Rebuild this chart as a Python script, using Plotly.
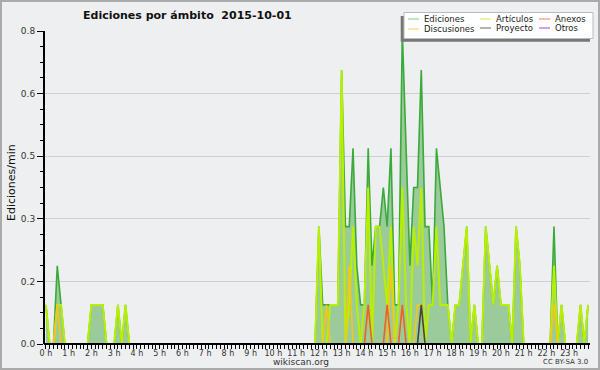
import plotly.graph_objects as go

# 10-minute bins over the day (minutes since 00:00)
minutes = list(range(0, 1440, 10))

# Edits per minute per 10-minute bin
ediciones = [
    0.1, 0, 0, 0.2, 0.1, 0, 0, 0, 0, 0, 0, 0,            # 0h-2h
    0.1, 0.1, 0.1, 0.1, 0, 0, 0, 0.1, 0, 0.1, 0, 0,      # 2h-4h
    0, 0, 0, 0, 0, 0, 0, 0, 0, 0, 0, 0,                  # 4h-6h
    0, 0, 0, 0, 0, 0, 0, 0, 0, 0, 0, 0,                  # 6h-8h
    0, 0, 0, 0, 0, 0, 0, 0, 0, 0, 0, 0,                  # 8h-10h
    0, 0, 0, 0, 0, 0, 0, 0, 0, 0, 0, 0,                  # 10h-12h
    0.3, 0.1, 0.1, 0.1, 0.1, 0.1, 0.7, 0.3, 0.3, 0.5, 0.2, 0.1,   # 12h-14h
    0.1, 0.5, 0.2, 0.3, 0.3, 0.4, 0.3, 0.5, 0.1, 0.1, 0.8, 0.5,   # 14h-16h
    0.2, 0.4, 0.4, 0.7, 0.3, 0.3, 0.1, 0.5, 0.4, 0.3, 0.1, 0,     # 16h-18h
    0.1, 0.1, 0.2, 0.3, 0, 0.1, 0, 0, 0.3, 0.2, 0.1, 0.2,         # 18h-20h
    0.1, 0.1, 0.1, 0, 0.3, 0.2, 0, 0, 0, 0, 0, 0,                 # 20h-22h
    0, 0, 0.3, 0, 0.1, 0, 0, 0, 0, 0.1, 0, 0.1,                   # 22h-24h
]
articulos = [
    0.1, 0, 0, 0.1, 0.1, 0, 0, 0, 0, 0, 0, 0,
    0.1, 0.1, 0.1, 0.1, 0, 0, 0, 0.1, 0, 0.1, 0, 0,
    0, 0, 0, 0, 0, 0, 0, 0, 0, 0, 0, 0,
    0, 0, 0, 0, 0, 0, 0, 0, 0, 0, 0, 0,
    0, 0, 0, 0, 0, 0, 0, 0, 0, 0, 0, 0,
    0, 0, 0, 0, 0, 0, 0, 0, 0, 0, 0, 0,
    0.3, 0, 0, 0.1, 0.1, 0.1, 0.7, 0, 0.1, 0.3, 0.1, 0,
    0.1, 0.4, 0, 0.3, 0.3, 0.2, 0.1, 0.3, 0, 0.1, 0.4, 0.1,
    0, 0.3, 0.2, 0.4, 0, 0.1, 0.1, 0.3, 0.1, 0.1, 0.1, 0,
    0.1, 0.1, 0.2, 0.3, 0, 0.1, 0, 0, 0.3, 0.2, 0.1, 0.2,
    0.1, 0.1, 0.1, 0, 0.3, 0.2, 0, 0, 0, 0, 0, 0,
    0, 0, 0.2, 0, 0.1, 0, 0, 0, 0, 0.1, 0, 0.1,
]
discusiones = [0.0] * 144
for i, v in [(3, 0.1), (74, 0.1), (80, 0.2), (91, 0.2), (98, 0.1), (99, 0.1), (134, 0.1)]:
    discusiones[i] = v
anexos = [0.0] * 144
for i, v in [(85, 0.1), (90, 0.1), (94, 0.1)]:
    anexos[i] = v
proyecto = [0.0] * 144
proyecto[99] = 0.1
otros = [0.0] * 144

hour_labels = [f"{h} h" for h in range(24)]
y_ticks = [0, 0.16, 0.32, 0.48, 0.64, 0.8]
y_tick_text = ["0.0", "0.2", "0.3", "0.5", "0.6", "0.8"]

series = [
    ("Artículos", articulos, "#b8f000", 2),
    ("Discusiones", discusiones, "#f5c518", 1.6),
    ("Anexos", anexos, "#f06020", 1.6),
    ("Proyecto", proyecto, "#444444", 1.6),
    ("Otros", otros, "#9933ff", 1.6),
]

fig = go.Figure()
fig.add_trace(go.Scatter(
    x=minutes, y=ediciones, name="Ediciones", mode="lines",
    line=dict(color="#3aaa3a", width=1.6),
    fill="tozeroy", fillcolor="rgba(150,200,150,0.95)", showlegend=False,
))
for name, vals, col, w in series:
    fig.add_trace(go.Scatter(x=minutes, y=vals, name=name, mode="lines",
                             line=dict(color=col, width=w), showlegend=False))

BG = "#eeeff0"
fig.update_layout(
    width=600, height=370,
    margin=dict(l=44, r=10, t=31, b=26),
    paper_bgcolor=BG, plot_bgcolor=BG,
    font=dict(family="DejaVu Sans", size=9, color="#333333"),
    showlegend=False,
)
fig.update_xaxes(
    range=[-5, 1435], tickvals=[h * 60 for h in range(24)], ticktext=hour_labels,
    ticks="outside", ticklen=4, tickcolor="#000", tickwidth=1, automargin=False,
    showline=False, showgrid=False, zeroline=False, ticklabelstandoff=-3,
    minor=dict(dtick=10, tick0=0, ticks="outside", ticklen=4, tickcolor="#000", tickwidth=1),
    tickfont=dict(size=8, color="#333"),
)
fig.update_yaxes(
    range=[0, 0.8], tickvals=y_ticks, ticktext=y_tick_text,
    ticks="outside", ticklen=6, tickcolor="#000", tickwidth=1, automargin=False,
    showline=False,
    showgrid=True, gridcolor="#cfcfcf", gridwidth=1, zeroline=False,
    minor=dict(dtick=0.04, tick0=0, ticks="outside", ticklen=3, tickcolor="#000", showgrid=False),
    tickfont=dict(size=9, color="#333"),
)

def px(x):
    return (x - 44) / 546.0
def py(y):
    return (344 - y) / 313.0

shapes = [
    dict(type="rect", xref="paper", yref="paper", x0=px(1), x1=px(599), y0=py(369), y1=py(1),
         line=dict(color="#aaaaaa", width=2), fillcolor="rgba(0,0,0,0)", layer="below"),
    # axis lines drawn above the traces so zero-valued series hide under them
    dict(type="line", xref="paper", yref="paper", x0=0, x1=1, y0=0, y1=0,
         line=dict(color="#000", width=2), layer="above"),
    dict(type="line", xref="paper", yref="paper", x0=0, x1=0, y0=0, y1=1,
         line=dict(color="#000", width=2), layer="above"),
]
shapes.append(dict(type="rect", xref="paper", yref="paper", x0=px(400.7), x1=px(590), y0=py(41.7), y1=py(16),
                   fillcolor="#777777", line=dict(width=0)))
shapes.append(dict(type="rect", xref="paper", yref="paper", x0=px(404), x1=px(593), y0=py(38.5), y1=py(12.5),
                   fillcolor="#ffffff", line=dict(color="#bbbbbb", width=1)))
legend_items = [
    ("Ediciones", "#80cc80", 408, 19), ("Discusiones", "#ffd055", 408, 29),
    ("Artículos", "#ccf050", 480, 19), ("Proyecto", "#666666", 480, 28),
    ("Anexos", "#f08050", 539, 19), ("Otros", "#9944ee", 539, 28),
]
annotations = []
for name, col, x, y in legend_items:
    shapes.append(dict(type="line", xref="paper", yref="paper", x0=px(x), x1=px(x + 11), y0=py(y), y1=py(y),
                       line=dict(color=col, width=1)))
    annotations.append(dict(text=name, xref="paper", yref="paper", x=px(x + 14), y=py(y), xanchor="left",
                            yanchor="middle", showarrow=False, font=dict(size=8.5, color="#222")))

annotations += [
    dict(text="<b>Ediciones por ámbito  2015-10-01</b>", xref="paper", yref="paper", x=px(187), y=py(15),
         xanchor="center", yanchor="middle", showarrow=False, font=dict(size=11, color="#111")),
    dict(text="Ediciones/min", xref="paper", yref="paper", x=px(11), y=py(183), textangle=-90,
         xanchor="center", yanchor="middle", showarrow=False, font=dict(size=11, color="#111")),
    dict(text="wikiscan.org", xref="paper", yref="paper", x=px(301), y=py(362),
         xanchor="center", yanchor="middle", showarrow=False, font=dict(size=9, color="#333")),
    dict(text="CC BY-SA 3.0", xref="paper", yref="paper", x=px(590), y=py(362),
         xanchor="right", yanchor="middle", showarrow=False, font=dict(size=7, color="#333")),
]
fig.update_layout(shapes=shapes, annotations=annotations)
fig.write_html("out.html", config={"displayModeBar": False},
               post_script="document.body.style.margin='0';document.body.style.overflow='hidden';")
